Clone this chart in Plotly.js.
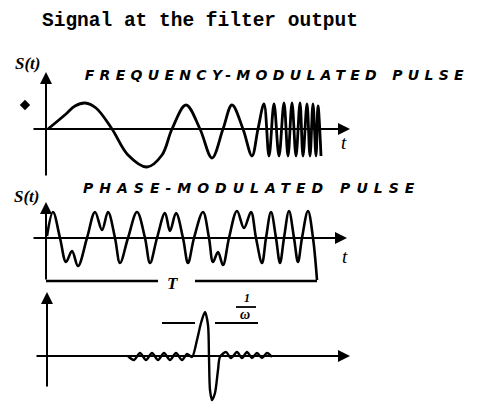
<!DOCTYPE html>
<html>
<head>
<meta charset="utf-8">
<script src="https://cdn.plot.ly/plotly-3.0.1.min.js"></script>
<style>html,body{margin:0;padding:0;background:#fff;}#chart{width:482px;height:403px;}</style>
</head>
<body>
<div id="chart"></div>
<script>
// ---- Frequency-modulated pulse (time t, amplitude S) ----
const fmT = [2, 20, 29, 39, 50, 66, 82, 101, 116, 126, 140, 154, 166, 177, 186, 197, 206, 212, 218, 223, 228, 233, 238, 242, 246, 250, 254, 257, 261, 264, 267, 270, 272, 275];
const fmS = [0, 15, 23, 26, 21, 0, -26, -38, -26, 0, 24, 0, -29, 0, 24, 0, -27, 0, 25, -27, 25, -27, 26, -27, 26, -27, 26, -27, 25, -27, 25, -27, 23, -27];

// ---- Phase-modulated pulse ----
const pmT = [1, 7, 14, 20, 26, 32, 41, 49, 56, 62, 69, 74, 82, 91, 99, 104, 111, 119, 124, 130, 137, 142, 148, 157, 163, 167, 172, 177, 183, 191, 198, 205, 210, 216, 220, 225, 230, 234, 238, 243, 248, 252, 256, 262, 267, 271];
const pmS = [2, 26, 0, -24, -13, -28, 0, 26, 8, 26, 0, -25, 0, 26, 0, -25, 0, 25, 7, 25, 0, -25, 0, 26, 0, -24, -14, -27, 0, 27, 10, 26, 0, -25, 0, 26, 0, -25, 0, 27, 0, -24, 0, 27, 0, -42];

// ---- Compressed signal at the filter output ----
const outT = [82, 88, 94, 100, 106, 112, 118, 124, 130, 136, 141, 146, 151, 155, 159, 162, 163, 164, 166, 169, 172, 174, 180, 185, 191, 196, 201, 206, 211, 216, 221, 226];
const outS = [1, -3, 4, -3, 4, -3, 4, -3, 4, -3, 3, 0, 17, 34, 45, 32, 0, -33, -43, -36, -13, 0, 5, -1, 5, -1, 5, -1, 4, -1, 4, 0];

// pulse duration T bracket and 1/w width markers
const bracketLeftT = [0, 112];
const bracketRightT = [149, 271];
const bracketS = -43;
const widthLeftT = [116, 149];
const widthRightT = [169, 212];
const widthS = 34;

// stray ink mark
const markT = [-21];
const markS = [24];

const ink = '#000000';
const traces = [
  {x: fmT, y: fmS, xaxis: 'x', yaxis: 'y', mode: 'lines', line: {color: ink, width: 2.8, shape: 'spline', smoothing: 1}, hoverinfo: 'skip'},
  {x: markT, y: markS, xaxis: 'x', yaxis: 'y', mode: 'markers', marker: {symbol: 'diamond', size: 8, color: ink}, hoverinfo: 'skip'},
  {x: pmT, y: pmS, xaxis: 'x', yaxis: 'y2', mode: 'lines', line: {color: ink, width: 2.6, shape: 'spline', smoothing: 1}, hoverinfo: 'skip'},
  {x: outT, y: outS, xaxis: 'x', yaxis: 'y3', mode: 'lines', line: {color: ink, width: 2.4, shape: 'spline', smoothing: 0.8}, hoverinfo: 'skip'}
];

function seg(x0, x1, y, yref, w) {
  return {type: 'line', xref: 'x', yref: yref, x0: x0, x1: x1, y0: y, y1: y, line: {color: ink, width: w}};
}
const shapes = [
  seg(bracketLeftT[0], bracketLeftT[1], bracketS, 'y2', 2.4),
  seg(bracketRightT[0], bracketRightT[1], bracketS, 'y2', 2.4),
  seg(widthLeftT[0], widthLeftT[1], widthS, 'y3', 1.8),
  seg(widthRightT[0], widthRightT[1], widthS, 'y3', 1.8),
  {type: 'line', xref: 'paper', yref: 'paper', x0: 0.4896, x1: 0.5311, y0: 0.2382, y1: 0.2382, line: {color: ink, width: 1.8}}
];

function axisArrow(yref, x, y, ax, ay) {
  return {xref: 'x', yref: yref, axref: 'x', ayref: yref, x: x, y: y, ax: ax, ay: ay, text: '',
          showarrow: true, arrowhead: 2, arrowsize: 1.2, arrowwidth: 2, arrowcolor: ink, standoff: 0, startstandoff: 0};
}
function label(text, x, y, font, xanchor) {
  return {xref: 'paper', yref: 'paper', x: x, y: y, text: text, showarrow: false,
          xanchor: xanchor || 'center', yanchor: 'middle', font: font};
}
const hand = {family: 'Liberation Serif', size: 17, color: ink, style: 'italic', weight: 'bold'};
const caps = {family: 'DejaVu Sans', size: 14, color: ink, weight: 'bold', style: 'italic'};

const annotations = [
  axisArrow('y', 0, 57, 0, -48),
  axisArrow('y', 304, 0, -14, 0),
  axisArrow('y2', 0, 36, 0, -43),
  axisArrow('y2', 301, 0, -14, 0),
  axisArrow('y3', 1, 65, 1, -31),
  axisArrow('y3', 304, 1, -11, 1),
  label('Signal at the filter output', 0.0830, 0.9479, {family: 'Liberation Mono', size: 19.5, color: ink, weight: 'bold'}, 'left'),
  label('S(t)', 0.0581, 0.8412, hand),
  label('FREQUENCY-MODULATED PULSE', 0.5750, 0.8127, caps),
  label('t', 0.7137, 0.6452, {family: 'Liberation Serif', size: 19, color: ink, style: 'italic'}),
  label('S(t)', 0.0560, 0.5112, hand),
  label('PHASE-MODULATED PULSE', 0.5220, 0.5347, caps),
  label('t', 0.7158, 0.3623, {family: 'Liberation Serif', size: 19, color: ink, style: 'italic'}),
  label('T', 0.3589, 0.2953, {family: 'Liberation Serif', size: 17, color: ink, style: 'italic', weight: 'bold'}),
  label('1', 0.5124, 0.2606, {family: 'Liberation Serif', size: 12, color: ink, style: 'italic', weight: 'bold'}),
  label('ω', 0.5083, 0.2208, {family: 'Liberation Serif', size: 14, color: ink, style: 'italic', weight: 'bold'})
];

const hidden = {visible: false, fixedrange: true};
const layout = {
  width: 482, height: 403,
  margin: {l: 0, r: 0, t: 0, b: 0},
  paper_bgcolor: '#ffffff', plot_bgcolor: 'rgba(0,0,0,0)',
  showlegend: false,
  xaxis: Object.assign({domain: [0, 1], range: [-46, 436]}, hidden),
  yaxis: Object.assign({domain: [0.55335, 0.851117], range: [-51, 69], anchor: 'x'}, hidden),
  yaxis2: Object.assign({domain: [0.290323, 0.513648], range: [-48, 42], anchor: 'x'}, hidden),
  yaxis3: Object.assign({domain: [0, 0.28536], range: [-46, 69], anchor: 'x'}, hidden),
  shapes: shapes,
  annotations: annotations
};

Plotly.newPlot('chart', traces, layout, {staticPlot: true, displayModeBar: false}).then(function () {
  document.querySelectorAll('text.annotation-text').forEach(function (el) {
    if (/FREQUENCY/.test(el.textContent)) { el.style.letterSpacing = '5.3px'; }
    else if (/PULSE/.test(el.textContent)) { el.style.letterSpacing = '6px'; }
  });
});
</script>
</body>
</html>
